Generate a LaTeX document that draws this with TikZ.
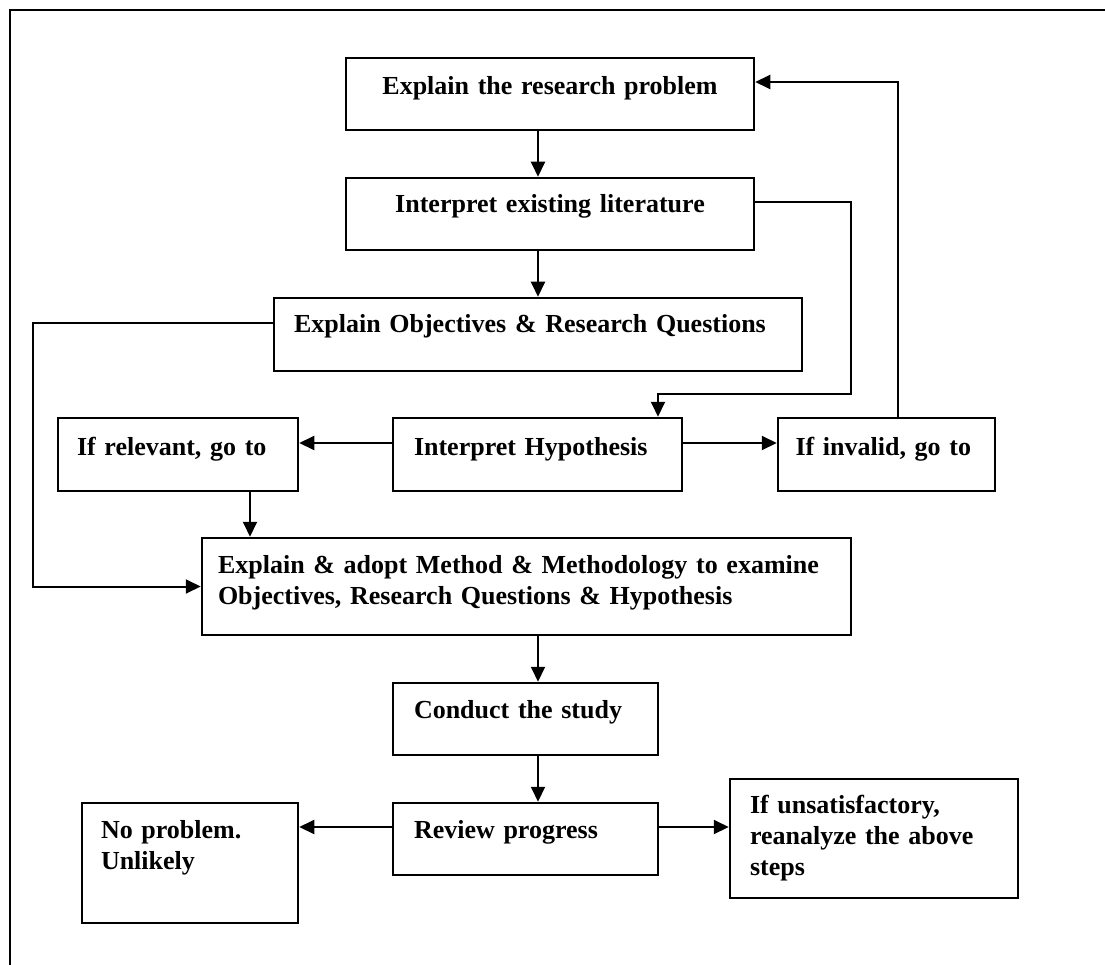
\documentclass[tikz,border=0pt]{standalone}
\usepackage{fontspec}
\setmainfont{Liberation Serif}
\usetikzlibrary{arrows.meta}

\begin{document}
\begin{tikzpicture}[x=1pt,y=-1pt,
  stepbox/.style={draw, line width=2.5pt, inner sep=0pt, text height=19pt,
    font=\fontsize{26}{31}\selectfont\bfseries},
  arr/.style={line width=2pt, -{Triangle[length=15pt,width=14pt]}}]
\useasboundingbox (0,0) rectangle (1105,965);
\draw[line width=2pt] (10,975) -- (10,10) -- (1115,10);

\node[stepbox, minimum width=408pt, minimum height=72pt, text width=380pt,
  align=center, text depth=17pt] (problem) at (550,94)
{Explain the research problem};

\node[stepbox, minimum width=408pt, minimum height=72pt, text width=380pt,
  align=center, text depth=21pt] (literature) at (550,214)
{Interpret existing literature};

\node[stepbox, minimum width=528pt, minimum height=73pt, text width=488pt,
  align=left, text depth=22pt] (objectives) at (538,334.5)
{Explain Objectives \& Research Questions};

\node[stepbox, minimum width=240pt, minimum height=73pt, text width=202pt,
  align=left, text depth=18pt] (relevant) at (178,454.5)
{If relevant, go to};

\node[stepbox, minimum width=289pt, minimum height=73pt, text width=247pt,
  align=left, text depth=18pt] (hypothesis) at (537.5,454.5)
{Interpret Hypothesis};

\node[stepbox, minimum width=217pt, minimum height=73pt, text width=182pt,
  align=left, text depth=18pt] (invalid) at (886.5,454.5)
{If invalid, go to};

\node[stepbox, minimum width=649pt, minimum height=97pt, text width=617pt,
  align=left, text depth=46pt] (method) at (526.5,586.5)
{Explain \& adopt Method \& Methodology to examine\\
Objectives, Research Questions \& Hypothesis};

\node[stepbox, minimum width=265pt, minimum height=72pt, text width=223pt,
  align=left, text depth=21pt] (conduct) at (525.5,719)
{Conduct the study};

\node[stepbox, minimum width=265pt, minimum height=72pt, text width=223pt,
  align=left, text depth=21pt] (review) at (525.5,839)
{Review progress};

\node[stepbox, minimum width=216pt, minimum height=120pt, text width=178pt,
  align=left, text depth=69pt] (noproblem) at (190,863)
{No problem.\\
Unlikely};

\node[stepbox, minimum width=288pt, minimum height=119pt, text width=248pt,
  align=left, text depth=70pt] (unsatisfactory) at (874,838.5)
{If unsatisfactory,\\
reanalyze the above\\
steps};

% main line down
\draw[arr] ([xshift=-12pt]problem.south) -- ([xshift=-12pt]literature.north);
\draw[arr] (objectives.north |- literature.south) -- (objectives.north);
\draw[arr] ([xshift=12.5pt]conduct.north |- method.south) -- ([xshift=12.5pt]conduct.north);
\draw[arr] ([xshift=12.5pt]conduct.south) -- ([xshift=12.5pt]review.north);

% loops round the side
\draw[arr] ([yshift=12pt]literature.east) -| ++(96,192) -| ([xshift=120.5pt]hypothesis.north);
\draw[arr] ([yshift=11.5pt]objectives.west) -- ++(-240,0) |- (method.west);
\draw[arr] ([xshift=11.5pt]invalid.north) |- ([yshift=12pt]problem.east);

% hypothesis branches
\draw[arr] ([yshift=11.5pt]hypothesis.west) -- ([yshift=11.5pt]relevant.east);
\draw[arr] ([yshift=11.5pt]hypothesis.east) -- ([yshift=11.5pt]invalid.west);
\draw[arr] ([xshift=72pt]relevant.south) -- ([xshift=72pt]relevant.south |- method.north);

% review branches
\draw[arr] ([yshift=12pt]review.west) -- ([yshift=12pt]review.west -| noproblem.east);
\draw[arr] ([yshift=12pt]review.east) -- ([yshift=12pt]review.east -| unsatisfactory.west);
\end{tikzpicture}
\end{document}
